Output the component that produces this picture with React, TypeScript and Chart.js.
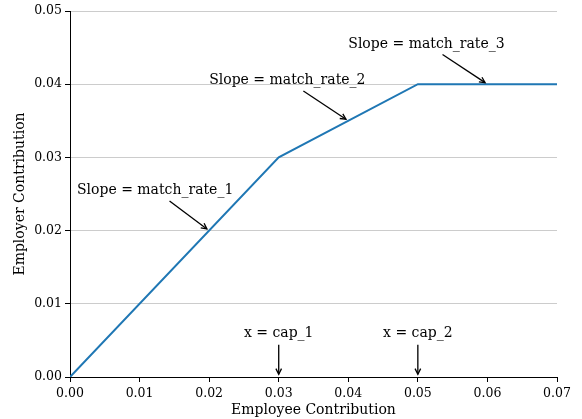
import React, { useEffect, useRef } from "react";
import { Chart, registerables } from "chart.js";

Chart.register(...registerables);

// Piecewise employer match schedule
const contributionX = [0, 0.03, 0.05, 0.07];
const employerMatch = [0, 0.03, 0.04, 0.04];

const xTickValues = [0, 0.01, 0.02, 0.03, 0.04, 0.05, 0.06, 0.07];
const yTickValues = [0, 0.01, 0.02, 0.03, 0.04, 0.05];

// Annotation text, where it sits, and the point its arrow targets
const noteLabels = [
  "Slope = match_rate_1",
  "Slope = match_rate_2",
  "Slope = match_rate_3",
  "x = cap_1",
  "x = cap_2",
];
const noteTextX = [0.001, 0.02, 0.04, 0.025, 0.045];
const noteTextY = [0.025, 0.04, 0.045, 0.0055, 0.0055];
const noteTipX = [0.02, 0.04, 0.06, 0.03, 0.05];
const noteTipY = [0.02, 0.035, 0.04, 0, 0];

const FONT = '"DejaVu Serif", serif';
const NOTE_PX = 14;
const SHRINK = 2.8;
const HEAD_LEN = 5.6;
const HEAD_HALF = 2.8;

const notesPlugin = {
  id: "notes",
  afterDatasetsDraw(chart: any) {
    const { ctx, scales } = chart;
    const xs = scales.x;
    const ys = scales.y;
    ctx.save();
    ctx.font = `${NOTE_PX}px ${FONT}`;
    ctx.fillStyle = "#000";
    ctx.strokeStyle = "#000";
    ctx.lineWidth = 1.3;
    ctx.textAlign = "left";
    ctx.textBaseline = "alphabetic";
    noteLabels.forEach((label, i) => {
      const tx = xs.getPixelForValue(noteTextX[i]);
      const ty = ys.getPixelForValue(noteTextY[i]);
      ctx.fillText(label, tx, ty);
      const w = ctx.measureText(label).width;
      // text box used to clip the start of the arrow
      const top = ty - 0.92 * NOTE_PX;
      const bottom = ty + 0.38 * NOTE_PX;
      const cx = tx + w / 2;
      const cy = (top + bottom) / 2;
      const px = xs.getPixelForValue(noteTipX[i]);
      const py = ys.getPixelForValue(noteTipY[i]);
      const dx = px - cx;
      const dy = py - cy;
      const len = Math.hypot(dx, dy);
      const ux = dx / len;
      const uy = dy / len;
      const tX = Math.abs(ux) > 1e-9 ? w / 2 / Math.abs(ux) : Infinity;
      const tY = Math.abs(uy) > 1e-9 ? (bottom - top) / 2 / Math.abs(uy) : Infinity;
      const tExit = Math.min(tX, tY) + SHRINK;
      const sx = cx + ux * tExit;
      const sy = cy + uy * tExit;
      const ex = px - ux * SHRINK;
      const ey = py - uy * SHRINK;
      ctx.beginPath();
      ctx.moveTo(sx, sy);
      ctx.lineTo(ex, ey);
      ctx.stroke();
      const bx = ex - ux * HEAD_LEN;
      const by = ey - uy * HEAD_LEN;
      ctx.beginPath();
      ctx.moveTo(bx - uy * HEAD_HALF, by + ux * HEAD_HALF);
      ctx.lineTo(ex, ey);
      ctx.lineTo(bx + uy * HEAD_HALF, by - ux * HEAD_HALF);
      ctx.stroke();
    });
    ctx.restore();
  },
};

export default function App() {
  const canvasRef = useRef<HTMLCanvasElement | null>(null);

  useEffect(() => {
    const canvas = canvasRef.current;
    if (!canvas) return;
    const points = contributionX.map((x, i) => ({ x, y: employerMatch[i] }));
    const chart = new Chart(canvas, {
      type: "line",
      data: {
        datasets: [
          {
            data: points,
            borderColor: "#1f77b4",
            borderWidth: 2,
            pointRadius: 0,
            tension: 0,
            fill: false,
          },
        ],
      },
      options: {
        animation: false,
        responsive: false,
        devicePixelRatio: 1,
        layout: { padding: { top: 11, right: 25, left: 0, bottom: 0 } },
        plugins: {
          legend: { display: false },
          tooltip: { enabled: false },
        },
        scales: {
          x: {
            type: "linear",
            min: 0,
            max: 0.07,
            afterBuildTicks: (s: any) => {
              s.ticks = xTickValues.map((v) => ({ value: v }));
            },
            afterFit: (s: any) => {
              s.height = 42;
            },
            ticks: {
              callback: (v: any) => Number(v).toFixed(2),
              color: "#000",
              font: { family: FONT, size: 12.5 },
              padding: 4.5,
              maxRotation: 0,
            },
            grid: {
              drawOnChartArea: false,
              tickLength: 5,
              tickColor: "#000",
              tickWidth: 1,
            },
            border: { color: "#000", width: 1 },
            title: {
              display: true,
              text: "Employee Contribution",
              color: "#000",
              font: { family: FONT, size: 14 },
              padding: { top: 0, bottom: 0 },
            },
          },
          y: {
            type: "linear",
            min: 0,
            max: 0.05,
            afterBuildTicks: (s: any) => {
              s.ticks = yTickValues.map((v) => ({ value: v }));
            },
            afterFit: (s: any) => {
              s.width = 70;
            },
            ticks: {
              callback: (v: any) => Number(v).toFixed(2),
              color: "#000",
              font: { family: FONT, size: 12.5 },
              padding: 3,
            },
            grid: {
              color: "#cccccc",
              lineWidth: 1,
              tickLength: 5,
              tickColor: "#000",
              tickWidth: 1,
            },
            border: { color: "#000", width: 1 },
            title: {
              display: true,
              text: "Employer Contribution",
              color: "#000",
              font: { family: FONT, size: 14 },
              padding: { top: 12, bottom: 0 },
            },
          },
        },
      },
      plugins: [notesPlugin],
    } as any);
    return () => chart.destroy();
  }, []);

  return (
    <div style={{ position: "fixed", left: 0, top: 0, width: 582, height: 419, background: "#fff" }}>
      <canvas ref={canvasRef} width={582} height={419} />
    </div>
  );
}
